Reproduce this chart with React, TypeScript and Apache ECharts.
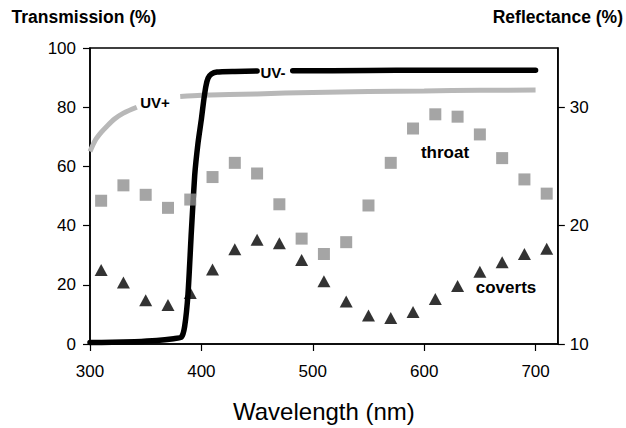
import React, { useEffect, useRef } from "react";
import * as echarts from "echarts";

const wavelengthTicks = [300, 400, 500, 600, 700];
const transmissionTicks = [0, 20, 40, 60, 80, 100];
const reflectanceTicks = [10, 20, 30];

// UV- transmission (black, thick); null = gap for the label
const uvMinusWl = [300, 320, 340, 360, 375, 382, 385, 388, 391, 394, 397, 400, 402, 404, 406, 409, 414, 430, 450, 466, 482, 550, 600, 650, 700];
const uvMinusT = [0.5, 0.6, 0.8, 1.2, 1.8, 2.3, 6, 17, 38, 57, 68, 76, 82, 87, 89.8, 91.2, 91.9, 92.1, 92.2, null, 92.3, 92.4, 92.5, 92.5, 92.5];

// UV+ transmission (grey); null = gap for the label
const uvPlusWl = [300, 305, 310, 315, 322, 330, 342, 362, 381, 400, 450, 500, 550, 600, 650, 700];
const uvPlusT = [65, 69, 71.5, 73.5, 76, 78, 80, null, 83.6, 84, 84.5, 85, 85.3, 85.5, 85.7, 85.8];

// Reflectance samples
const markerWl = [310, 330, 350, 370, 390, 410, 430, 450, 470, 490, 510, 530, 550, 570, 590, 610, 630, 650, 670, 690, 710];
const throat = [22.1, 23.4, 22.6, 21.5, 22.2, 24.1, 25.3, 24.4, 21.8, 18.9, 17.6, 18.6, 21.7, 25.3, 28.2, 29.4, 29.2, 27.7, 25.7, 23.9, 22.7];
const coverts = [16.25, 15.2, 13.7, 13.3, 14.3, 16.3, 18.0, 18.8, 18.5, 17.1, 15.3, 13.6, 12.4, 12.2, 12.7, 13.8, 14.9, 16.1, 16.9, 17.6, 18.05];

const FONT = "'Liberation Sans', Arial, sans-serif";

export default function App() {
  const ref = useRef<HTMLDivElement>(null);
  useEffect(() => {
    if (!ref.current) return;
    const chart = echarts.init(ref.current, null, { renderer: "svg" });
    const pair = (xs: number[], ys: (number | null)[]) =>
      xs.map((x, i) => [x, ys[i] === null ? "-" : ys[i]]);
    const axisLine = { show: true, lineStyle: { color: "#000", width: 1.5 } };
    const axisTick = { show: true, inside: false, length: 7, lineStyle: { color: "#000", width: 1.2 } };
    const labelStyle = { color: "#000", fontSize: 17, fontFamily: FONT };
    const annot = (text: string, x: number, y: number, size: number) => ({
      type: "text",
      x,
      y,
      style: {
        text,
        fill: "#000",
        font: `bold ${size}px ${FONT}`,
        textAlign: "center",
        textVerticalAlign: "middle",
      },
      z: 100,
    });
    chart.setOption({
      animation: false,
      backgroundColor: "#fff",
      textStyle: { fontFamily: FONT },
      grid: {
        left: 90,
        right: 68,
        top: 48,
        bottom: 83,
        show: true,
        borderColor: "#000",
        borderWidth: 1.5,
        backgroundColor: "transparent",
      },
      xAxis: {
        type: "value",
        min: 300,
        max: 720,
        interval: 100,
        name: "Wavelength (nm)",
        nameLocation: "middle",
        nameGap: 55,
        nameTextStyle: { color: "#000", fontSize: 24, fontFamily: FONT },
        axisLine,
        axisTick: { ...axisTick, customValues: wavelengthTicks },
        axisLabel: { ...labelStyle, margin: 19, customValues: wavelengthTicks },
        splitLine: { show: false },
      },
      yAxis: [
        {
          type: "value",
          min: 0,
          max: 100,
          interval: 20,
          position: "left",
          name: "Transmission (%)",
          nameLocation: "end",
          nameGap: 22,
          nameTextStyle: {
            color: "#000",
            fontSize: 17.5,
            fontWeight: "bold",
            fontFamily: FONT,
            align: "center",
            padding: [0, 12, 0, 0],
          },
          axisLine,
          axisTick: { ...axisTick, customValues: transmissionTicks },
          axisLabel: { ...labelStyle, margin: 14, customValues: transmissionTicks },
          splitLine: { show: false },
        },
        {
          type: "value",
          min: 10,
          max: 35,
          interval: 10,
          position: "right",
          name: "Reflectance (%)",
          nameLocation: "end",
          nameGap: 22,
          nameTextStyle: {
            color: "#000",
            fontSize: 17.5,
            fontWeight: "bold",
            fontFamily: FONT,
            align: "center",
          },
          axisLine,
          axisTick: { ...axisTick, customValues: reflectanceTicks },
          axisLabel: { ...labelStyle, margin: 12, customValues: reflectanceTicks },
          splitLine: { show: false },
        },
      ],
      series: [
        {
          name: "UV+",
          type: "line",
          yAxisIndex: 0,
          data: pair(uvPlusWl, uvPlusT),
          showSymbol: false,
          symbol: "none",
          connectNulls: false,
          smooth: 0.3,
          lineStyle: { color: "#b8b8b8", width: 5 },
          z: 2,
        },
        {
          name: "UV-",
          type: "line",
          yAxisIndex: 0,
          data: pair(uvMinusWl, uvMinusT),
          showSymbol: false,
          symbol: "none",
          connectNulls: false,
          smooth: 0.2,
          lineStyle: { color: "#000", width: 5.5, cap: "round", join: "round" },
          z: 3,
        },
        {
          name: "throat",
          type: "scatter",
          yAxisIndex: 1,
          data: pair(markerWl, throat),
          symbol: "rect",
          symbolSize: 12,
          itemStyle: { color: "#8f8f8f" },
          z: 4,
        },
        {
          name: "coverts",
          type: "scatter",
          yAxisIndex: 1,
          data: pair(markerWl, coverts),
          symbol: "triangle",
          symbolSize: [13, 12],
          itemStyle: { color: "#000" },
          z: 5,
        },
      ],
      graphic: [
        annot("UV-", 273, 72, 15),
        annot("UV+", 155, 102, 15),
        annot("throat", 445, 152, 17),
        annot("coverts", 506, 287, 17),
      ],
    });
    return () => chart.dispose();
  }, []);
  return (
    <div
      ref={ref}
      style={{ position: "fixed", left: 0, top: 0, width: 626, height: 428, background: "#fff" }}
    />
  );
}
